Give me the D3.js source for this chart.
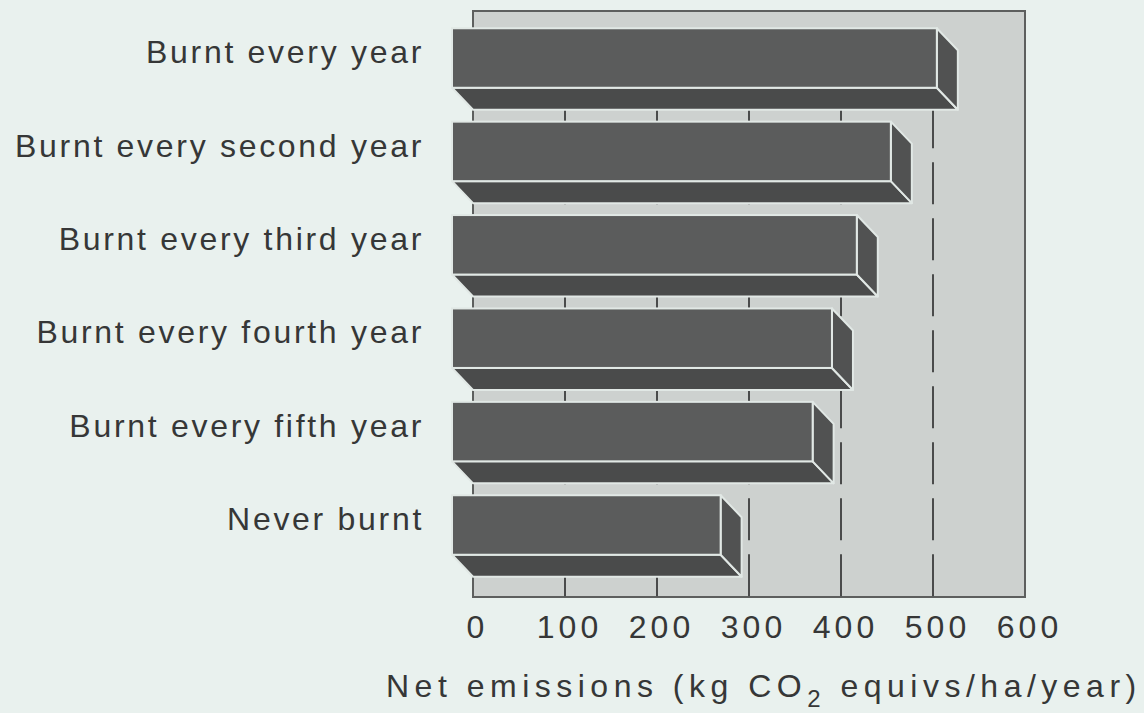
<!DOCTYPE html>
<html>
<head>
<meta charset="utf-8">
<script src="https://cdn.jsdelivr.net/npm/d3@7"></script>
<style>
  html, body { margin: 0; padding: 0; background: #e9f1ee; }
  svg { display: block; }
  text { font-family: "Liberation Sans", Arial, Helvetica, sans-serif; fill: #363737; }
</style>
</head>
<body>
<svg id="chart" width="1144" height="713"></svg>
<script>
// ---- data ----
const categories = [
  "Burnt every year",
  "Burnt every second year",
  "Burnt every third year",
  "Burnt every fourth year",
  "Burnt every fifth year",
  "Never burnt"
];
const values = [527, 477, 440, 413, 392, 292];
const tickValues = [0, 100, 200, 300, 400, 500, 600];
const gridValues = [100, 200, 300, 400, 500];
const axisTitle = "Net emissions (kg CO";
const axisTitleSub = "2";
const axisTitleEnd = " equivs/ha/year)";

// ---- layout ----
const wallTop = 11, wallBottom = 597;
const depthX = 21, depthY = 22;

const svg = d3.select("#chart");

const x = d3.scaleLinear().domain([0, 600]).range([473, 1025]);
const y = d3.scaleBand().domain(categories).range([20, 607])
  .paddingInner(0.363).paddingOuter(0.324);
const bw = y.bandwidth();

// back wall
svg.append("rect")
  .attr("x", x(0)).attr("y", wallTop)
  .attr("width", x(600) - x(0)).attr("height", wallBottom - wallTop)
  .attr("fill", "#cdd1cf")
  .attr("stroke", "#5d5f5e").attr("stroke-width", 2);

// gridlines (dashed), starting below the top bar
svg.append("g").selectAll("line")
  .data(gridValues).join("line")
  .attr("x1", d => x(d)).attr("x2", d => x(d))
  .attr("y1", y(categories[0])).attr("y2", wallBottom)
  .attr("stroke", "#4a4b4b").attr("stroke-width", 2)
  .attr("stroke-dasharray", "42,14");

// bars (3D)
const data = categories.map((c, i) => ({ c, v: values[i] }));
const bars = svg.append("g").selectAll("g").data(data).join("g");
const edge = "#e1e8e5";

// bottom face
bars.append("polygon")
  .attr("points", d => {
    const x0 = x(0), x1 = x(d.v), yb = y(d.c) + bw;
    return [[x0 - depthX, yb - depthY], [x1 - depthX, yb - depthY], [x1, yb], [x0, yb]].join(" ");
  })
  .attr("fill", "#4a4b4b").attr("stroke", edge).attr("stroke-width", 2)
  .attr("stroke-linejoin", "round");

// right face
bars.append("polygon")
  .attr("points", d => {
    const x1 = x(d.v), yt = y(d.c);
    return [[x1 - depthX, yt - depthY], [x1, yt], [x1, yt + bw], [x1 - depthX, yt + bw - depthY]].join(" ");
  })
  .attr("fill", "#515252").attr("stroke", edge).attr("stroke-width", 2)
  .attr("stroke-linejoin", "round");

// front face
bars.append("rect")
  .attr("x", x(0) - depthX)
  .attr("y", d => y(d.c) - depthY)
  .attr("width", d => x(d.v) - x(0))
  .attr("height", bw)
  .attr("fill", "#5b5c5c").attr("stroke", edge).attr("stroke-width", 2);

// category labels
svg.append("g").selectAll("text")
  .data(categories).join("text")
  .attr("x", 424)
  .attr("y", d => y(d) + 13)
  .attr("text-anchor", "end")
  .attr("font-size", 32)
  .attr("letter-spacing", 2.7)
  .text(d => d);

// x axis labels
const axisG = svg.append("g")
  .attr("transform", `translate(0,${wallBottom})`)
  .call(d3.axisBottom(x).tickValues(tickValues).tickSize(0).tickPadding(18.5));
axisG.select(".domain").remove();
axisG.selectAll("text")
  .attr("font-size", 32)
  .attr("letter-spacing", 4)
  .attr("dx", 4)
  .attr("fill", "#363737")
  .attr("font-family", "'Liberation Sans', Arial, Helvetica, sans-serif");

// axis title
const t = svg.append("text")
  .attr("x", 386).attr("y", 697)
  .attr("font-size", 32)
  .attr("letter-spacing", 5.5);
t.append("tspan").text(axisTitle);
t.append("tspan").attr("font-size", 24).attr("dy", 10).text(axisTitleSub);
t.append("tspan").attr("dy", -10).text(axisTitleEnd);
</script>
</body>
</html>
